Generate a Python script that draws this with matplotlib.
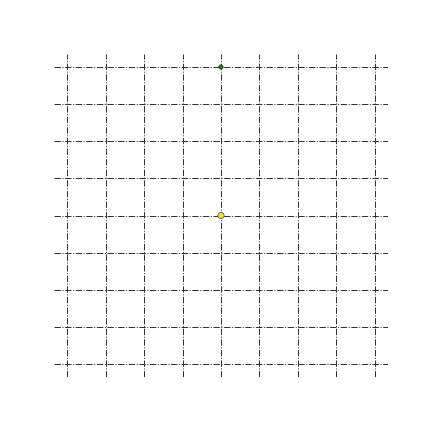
import matplotlib
matplotlib.use("Agg")
import matplotlib.pyplot as plt

x_vals = [4, 4]
y_vals = [8, 4]
sizes = [20, 40]
colors = ["#1f7a1f", "#e8e03a"]
ticks = list(range(9))

fig = plt.figure(figsize=(6, 6), dpi=72)
ax = fig.add_axes([0.125, 0.127, 0.773, 0.748])
ax.scatter(x_vals, y_vals, s=sizes, c=colors, edgecolors="#333333", linewidths=0.6, zorder=3)
ax.set_xticks(ticks)
ax.set_yticks(ticks)
ax.set_xlim(-0.35, 8.35)
ax.set_ylim(-0.35, 8.35)
ax.grid(True, linestyle="-.", color="#333333", linewidth=1.0)
ax.tick_params(length=0, labelbottom=False, labelleft=False)
for s in ax.spines.values():
    s.set_visible(False)
fig.savefig("out.png", dpi=72)
